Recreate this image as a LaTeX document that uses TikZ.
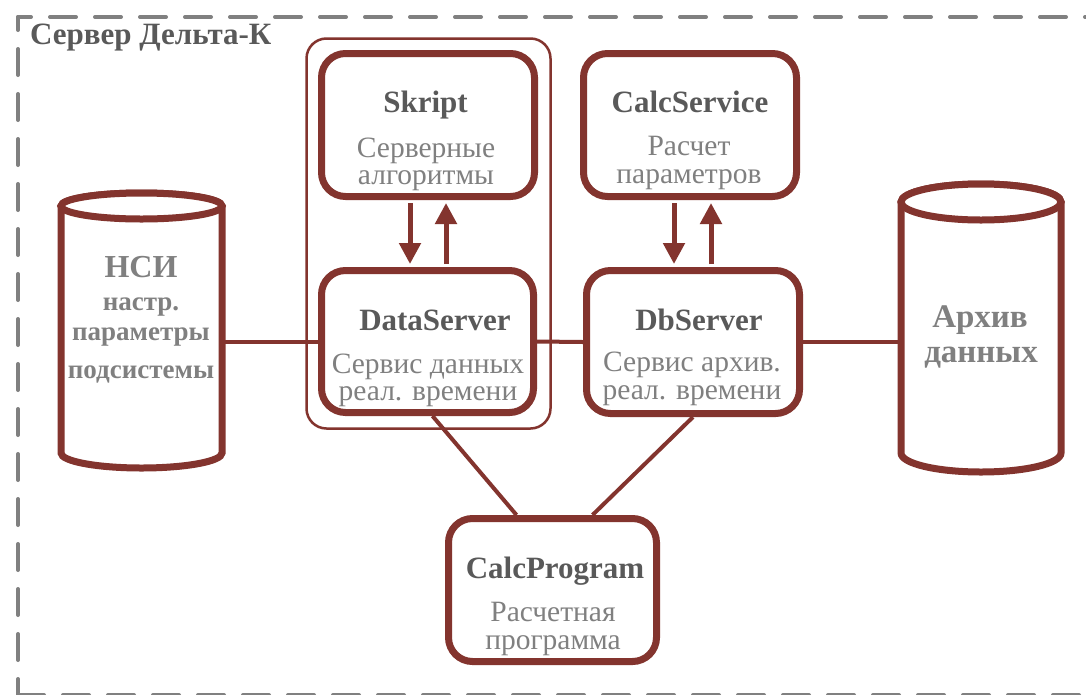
\documentclass[tikz,border=0pt]{standalone}
\usepackage{fontspec}
\setmainfont{Liberation Serif}
\usetikzlibrary{arrows.meta,calc}
\definecolor{dred}{RGB}{131,52,46}
\definecolor{headc}{RGB}{89,89,89}
\definecolor{subc}{RGB}{128,128,128}
\definecolor{framec}{RGB}{128,128,128}
\tikzset{
  box/.style={draw=dred, line width=7pt, rounded corners=24pt, fill=white,
    minimum width=213pt, minimum height=143pt, inner sep=0pt},
  head/.style={anchor=base, text=headc, font=\fontsize{31}{31}\selectfont\bfseries, inner sep=0pt},
  sub/.style={anchor=base, align=center, text=subc, font=\fontsize{29.5}{27.5}\selectfont, inner sep=0pt},
  cyltxt/.style={anchor=base, text=subc, font=\fontsize{27}{27}\selectfont\bfseries, inner sep=0pt},
  cylbig/.style={anchor=base, text=subc, font=\fontsize{32}{32}\selectfont\bfseries, inner sep=0pt},
  link/.style={draw=dred, line width=4pt},
  arr/.style={draw=dred, line width=5pt, -{Triangle[width=21pt,length=21pt]}, shorten >=3pt, shorten <=3pt},
  cylshape/.style={draw=dred, line width=7pt, fill=white},
  hold/.style={inner sep=0pt, outer sep=0pt},
}
\begin{document}
\begin{tikzpicture}[x=1pt,y=1pt]
\useasboundingbox (0,0) rectangle (1086,-694);
\fill[white] (0,0) rectangle (1086,-694);
% dashed frame
\draw[framec, line width=4pt, line cap=round, dash pattern=on 26pt off 19pt, dash phase=13pt] (18,-17) -- (18,-700);
\draw[framec, line width=4pt, line cap=round, dash pattern=on 26pt off 19pt, dash phase=13pt] (18,-17) -- (1110,-17);
\draw[framec, line width=4pt, line cap=round, dash pattern=on 26pt off 19pt] (18,-695) -- (1110,-695);
\node[anchor=base west, text=headc, font=\fontsize{31}{31}\selectfont\bfseries, inner sep=0pt] (title) at (30,-44) {Сервер Дельта-К};

% cylinders
\draw[cylshape] (61,-206) -- (61,-453) arc[start angle=180,end angle=360,x radius=80.5,y radius=15] -- (222,-206) arc[start angle=0,end angle=180,x radius=80.5,y radius=13] -- cycle;
\draw[cylshape] (141.5,-206) ellipse[x radius=80.5,y radius=13];
\node[hold, minimum width=161pt, minimum height=247pt] (nsi) at (141.5,-330) {};
\draw[cylshape] (901,-202) -- (901,-453) arc[start angle=180,end angle=360,x radius=80,y radius=19] -- (1061,-202) arc[start angle=0,end angle=180,x radius=80,y radius=18] -- cycle;
\draw[cylshape] (981,-202) ellipse[x radius=80,y radius=18];
\node[hold, minimum width=160pt, minimum height=251pt] (arch) at (981,-327) {};

% group frame
\node[draw=dred, line width=2.5pt, rounded corners=20pt, minimum width=244pt, minimum height=390pt] (grp) at (428.5,-233.5) {};

% boxes
\node[box] (skript) at (428,-125) {};
\node[box, minimum width=212pt, minimum height=142pt] (ds) at (427.5,-341.5) {};
\node[box] (cs) at (690,-125) {};
\node[box, minimum width=213pt, minimum height=143pt] (db) at (693,-342) {};
\node[box, minimum width=208pt, minimum height=143pt] (cp) at (552.5,-590) {};

% connectors
\draw[link] (nsi.east |- ds.west) -- (ds.west);
\draw[link] (ds.east) -- (db.west);
\draw[link] (db.east) -- (arch.west |- db.east);
\draw[link] ([xshift=5pt]ds.south) -- ([xshift=-36pt]cp.north);
\draw[link] (db.south) -- ([xshift=40pt]cp.north);
\draw[arr] ([xshift=-18pt]skript.south) -- ([xshift=-18pt]skript.south |- ds.north);
\draw[arr] ([xshift=18pt]skript.south |- ds.north) -- ([xshift=18pt]skript.south);
\draw[arr] ([xshift=-16pt]cs.south) -- ([xshift=-16pt]cs.south |- db.north);
\draw[arr] ([xshift=21pt]cs.south |- db.north) -- ([xshift=21pt]cs.south);

% texts
\node[head] (t1) at (425.5,-112) {Skript};
\node[sub] (t2) at (426,-184.5) {Серверные\\алгоритмы};
\node[head] (t4) at (435,-330) {DataServer};
\node[sub] (t5) at (428,-400.5) {Сервис данных\\реал. времени};
\node[head] (t7) at (690,-112) {CalcService};
\node[sub] (t8) at (689,-183) {Расчет\\параметров};
\node[head] (t10) at (699,-330) {DbServer};
\node[sub] (t11) at (692,-399) {Сервис архив.\\реал. времени};
\node[head] (t13) at (555,-578) {CalcProgram};
\node[sub] (t14) at (553,-649) {Расчетная\\программа};
\node[cylbig] (t16) at (141,-277) {НСИ};
\node[cyltxt] (t17) at (141,-310) {настр.};
\node[cyltxt] (t18) at (141,-340) {параметры};
\node[cyltxt] (t19) at (141,-378) {подсистемы};
\node[cylbig, font=\fontsize{33}{33}\selectfont\bfseries] (t20) at (980,-327) {Архив};
\node[cylbig, font=\fontsize{33}{33}\selectfont\bfseries] (t21) at (981,-362) {данных};
\end{tikzpicture}
\end{document}
